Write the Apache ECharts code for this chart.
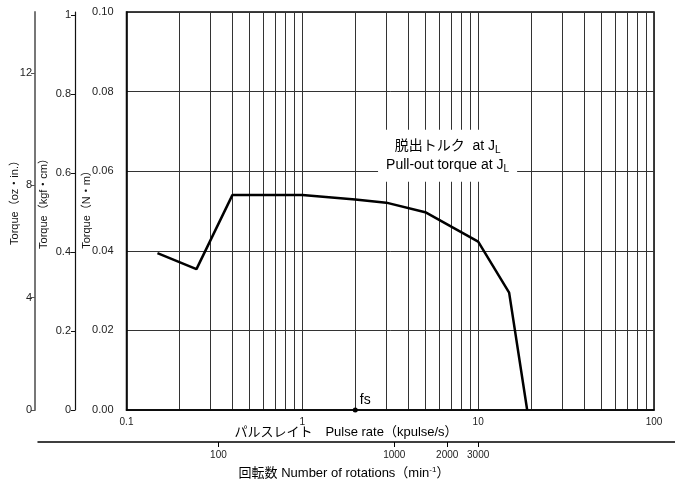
<!DOCTYPE html>
<html><head><meta charset="utf-8">
<script src="https://cdn.jsdelivr.net/npm/echarts@6/dist/echarts.min.js"></script>
<style>html,body{margin:0;padding:0;background:#fff}#c{width:675px;height:481px}</style>
</head><body><div id="c"></div>
<script>
// ---- data ----
const pulseRate = [0.15, 0.25, 0.4, 1, 2, 3, 5, 10, 15, 19];          // kpulse/s
const torqueNm  = [0.0394, 0.0354, 0.054, 0.054, 0.0529, 0.0521, 0.0497, 0.0423, 0.0295, 0]; // N·m
const pulseLabelTicks = [0.1, 1, 10, 100];
const pulseGridTicks = [0.1,0.2,0.3,0.4,0.5,0.6,0.7,0.8,0.9,1,2,3,4,5,6,7,8,9,10,20,30,40,50,60,70,80,90,100];
const rotationTicks = [100, 1000, 2000, 3000];   // min^-1
const rpmPerKpps = 300;
const fsPoint = [2, 0];
const labelAnchor = [6.7, 0.0639];
const nmMax = 0.1, kgfMax = 1.008, ozMax = 14.17;

// ---- layout ----
const L = 126.5, R = 654, T = 12, B = 410;
const decade = (R - L) / 3;
const rotLeft = 38, rotRight = 675;
const rotMin = 0.1 * rpmPerKpps * Math.pow(10, (rotLeft - L) / decade);
const rotMax = 0.1 * rpmPerKpps * Math.pow(10, (rotRight - L) / decade);

const FONT = '"Liberation Sans", "Noto Sans CJK JP", sans-serif';
const chart = echarts.init(document.getElementById('c'), null, {renderer: 'canvas'});

const fmtNum = v => {
  const r = Math.round(v * 1000) / 1000;
  return String(r);
};

chart.setOption({
  animation: false,
  backgroundColor: '#fff',
  textStyle: {fontFamily: FONT},
  grid: [
    {left: L, top: T, width: R - L, height: B - T, show: true, borderColor: '#000', borderWidth: 1.5, backgroundColor: 'transparent'},
    {left: rotLeft, top: 441, width: rotRight - rotLeft, height: 1}
  ],
  xAxis: [
    {
      type: 'log', logBase: 10, min: 0.1, max: 100, gridIndex: 0,
      axisLine: {show: true, lineStyle: {color: '#000', width: 1.5}},
      axisTick: {show: false, customValues: pulseGridTicks},
      axisLabel: {customValues: pulseLabelTicks, color: '#222', fontSize: 10, margin: 7, formatter: fmtNum, fontFamily: FONT},
      splitLine: {show: true, lineStyle: {color: '#333', width: 1}}
    },
    {
      type: 'log', logBase: 10, min: rotMin, max: rotMax, gridIndex: 1, position: 'bottom',
      axisLine: {show: true, lineStyle: {color: '#000', width: 1.5}},
      axisTick: {show: true, customValues: rotationTicks, length: 5, lineStyle: {color: '#000'}},
      axisLabel: {customValues: rotationTicks, color: '#222', fontSize: 10, margin: 8, formatter: fmtNum, fontFamily: FONT},
      splitLine: {show: false}
    }
  ],
  yAxis: [
    {
      type: 'value', min: 0, max: nmMax, interval: 0.02, gridIndex: 0, position: 'left',
      axisLine: {show: true, lineStyle: {color: '#000', width: 1.5}},
      axisTick: {show: false},
      axisLabel: {color: '#222', fontSize: 11, margin: 13, formatter: v => v.toFixed(2), fontFamily: FONT},
      splitLine: {show: true, lineStyle: {color: '#333', width: 1}}
    },
    {
      type: 'value', min: 0, max: kgfMax, interval: 0.2, gridIndex: 0, position: 'left', offset: L - 75,
      axisLine: {show: true, lineStyle: {color: '#111', width: 1.2}},
      axisTick: {show: true, length: 4, lineStyle: {color: '#111'}},
      axisLabel: {color: '#222', fontSize: 11, margin: 4, formatter: fmtNum, fontFamily: FONT, showMaxLabel: false},
      splitLine: {show: false}
    },
    {
      type: 'value', min: 0, max: ozMax, interval: 4, gridIndex: 0, position: 'left', offset: L - 35,
      axisLine: {show: true, lineStyle: {color: '#777', width: 2}},
      axisTick: {show: true, length: 4, lineStyle: {color: '#555'}},
      axisLabel: {color: '#222', fontSize: 11, margin: 3, formatter: fmtNum, fontFamily: FONT, showMaxLabel: false},
      splitLine: {show: false}
    },
    {type: 'value', gridIndex: 1, show: false, min: 0, max: 1}
  ],
  series: [
    {
      type: 'line', xAxisIndex: 0, yAxisIndex: 0, z: 5,
      data: pulseRate.map((x, i) => [x, torqueNm[i]]),
      symbol: 'none', lineStyle: {color: '#000', width: 2.5}, clip: false
    },
    {
      type: 'scatter', xAxisIndex: 0, yAxisIndex: 0, z: 6, clip: false,
      data: [fsPoint], symbol: 'circle', symbolSize: 5, itemStyle: {color: '#000', opacity: 1},
      label: {show: true, position: 'right', offset: [-3, -10], formatter: 'fs', color: '#000', fontSize: 14, fontFamily: FONT}
    },
    {
      type: 'scatter', xAxisIndex: 0, yAxisIndex: 0, z: 4, silent: true,
      data: [labelAnchor], symbolSize: 0, itemStyle: {opacity: 1},
      label: {
        show: true, position: 'inside', align: 'center', verticalAlign: 'middle',
        backgroundColor: '#fff', padding: [7, 8, 7, 8], lineHeight: 19,
        formatter: '脱出トルク  at J{sub|L}\nPull-out torque at J{sub|L}',
        color: '#000', fontSize: 14, fontFamily: FONT,
        rich: {sub: {fontSize: 10, verticalAlign: 'bottom', padding: [6, 0, 0, 0], color: '#000', fontFamily: FONT, lineHeight: 19}}
      }
    }
  ],
  graphic: [
    {type: 'text', x: 346, y: 432, style: {text: 'パルスレイト　Pulse rate（kpulse/s）', font: '13px ' + FONT, fill: '#000', align: 'center', verticalAlign: 'middle'}},
    {type: 'text', x: 344, y: 473, style: {text: '回転数 Number of rotations（min{sup|-1}）', font: '13px ' + FONT, fill: '#000', align: 'center', verticalAlign: 'middle',
      rich: {sup: {fontSize: 8, verticalAlign: 'top', padding: [0, 0, 6, 0], fill: '#000', fontFamily: FONT}}}},
    {type: 'text', x: 15, y: 200, rotation: Math.PI / 2, style: {text: 'Torque（oz・in.）', font: '11px ' + FONT, fill: '#111', align: 'center', verticalAlign: 'middle'}},
    {type: 'text', x: 44, y: 201, rotation: Math.PI / 2, style: {text: 'Torque（kgf・cm）', font: '11px ' + FONT, fill: '#111', align: 'center', verticalAlign: 'middle'}},
    {type: 'text', x: 87, y: 207, rotation: Math.PI / 2, style: {text: 'Torque（N・m）', font: '11px ' + FONT, fill: '#111', align: 'center', verticalAlign: 'middle'}}
  ]
});
</script>
</body></html>
